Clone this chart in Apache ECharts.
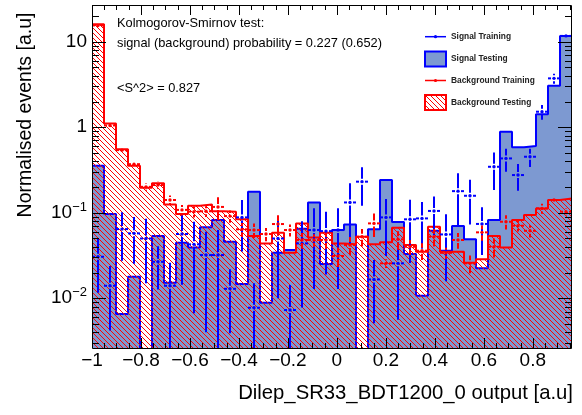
<!DOCTYPE html>
<html>
<head>
<meta charset="utf-8">
<script src="https://cdn.jsdelivr.net/npm/echarts@6/dist/echarts.min.js"></script>
<style>
  html, body { margin: 0; padding: 0; background: #fff; }
  #chart { width: 582px; height: 415px; }
</style>
</head>
<body>
<div id="chart"></div>
<script>
// ---- binning and axis ranges ----
const xMin = -1, xMax = 0.96, nBins = 40;
const yMin = 0.00262, yMax = 26.9;

// ---- testing samples (normalised histograms, one value per bin) ----
const sigTest = [0.355, 0.0966, 0.00653, 0.0178, 0, 0.0533, 0.0152, 0.0446, 0.0393, 0.0675,
                 0.0822, 0.0458, 0.0147, 0.176, 0.00886, 0.034, 0.0366, 0.065, 0.132, 0.0251,
                 0.0628, 0.0731, 0, 0.064, 0.241, 0.0778, 0.0329, 0.0107, 0.0615, 0.036,
                 0.0698, 0.0489, 0.0224, 0.0822, 0.886, 0.582, 0.602, 1.415, 3.06, 11.7];
const bkgTest = [16.0, 1.11, 0.552, 0.355, 0.196, 0.221, 0.125, 0.0966, 0.121, 0.125,
                 0.104, 0.103, 0.0838, 0.0533, 0.0438, 0.0583, 0.034, 0.0751, 0.0515, 0.0583,
                 0.0438, 0.0427, 0.0524, 0.0427, 0.0451, 0.0669, 0.0419, 0.035, 0.0686, 0.035,
                 0.035, 0.026, 0.0285, 0.0533, 0.0393, 0.0822, 0.094, 0.1125, 0.141, 0.147];

// ---- training samples (points with errors) ----
const sigTrain = [0.0306, 0.014, 0.0644, 0.0574, 0.050, 0.0267, 0.014, 0.0564, 0.0427, 0.032,
                  0.032, 0.0129, 0.0883, 0.00775, 0, 0.050, 0.00728, 0.0438, 0.0628, 0.061,
                  0.0628, 0.132, 0.231, 0.0166, 0.0883, 0.0256, 0.0838, 0.0859, 0.105, 0.0558,
                  0.179, 0.158, 0.074, 0.345, 0.432, 0.276, 0.452, 1.52, 3.73, 11.7];
const sigTrainErr = [0.019, 0.0098, 0.037, 0.032, 0.035, 0.014, 0.012, 0.042, 0.036, 0.028,
                     0.031, 0.009, 0.053, 0.0072, 0, 0.04, 0.007, 0.036, 0.05, 0.042,
                     0.05, 0.09, 0.11, 0.0115, 0.057, 0.02, 0.058, 0.048, 0.05, 0.04,
                     0.11, 0.085, 0.042, 0.16, 0.13, 0.095, 0.11, 0.3, 0.5, 0.8];
const bkgTrain = [15.5, 1.05, 0.54, 0.37, 0.201, 0.211, 0.141, 0.108, 0.103, 0.104,
                  0.117, 0.0914, 0.064, 0.0628, 0.0564, 0.0738, 0.0628, 0.048, 0.048, 0.048,
                  0.0312, 0.0419, 0.0524, 0.0751, 0.0256, 0.0489, 0.040, 0.036, 0.0524, 0.034,
                  0.048, 0.0256, 0.059, 0.040, 0.0785, 0.0705, 0.0615, 0.1125, 0.141, 0.103];
const bkgTrainErr = [0.4, 0.06, 0.04, 0.03, 0.02, 0.02, 0.018, 0.015, 0.015, 0.015,
                     0.035, 0.015, 0.012, 0.012, 0.01, 0.02, 0.01, 0.01, 0.008, 0.01,
                     0.008, 0.01, 0.012, 0.023, 0.003, 0.012, 0.008, 0.008, 0.012, 0.005,
                     0.01, 0.006, 0.012, 0.01, 0.015, 0.01, 0.01, 0.015, 0.01, 0.01];

// ---- texts ----
const seriesNames = ['Signal Training', 'Signal Testing', 'Background Training', 'Background Testing'];
const ksLines = ['Kolmogorov-Smirnov test:', 'signal (background) probability = 0.227 (0.652)', '<S^2> = 0.827'];
const xTitle = 'Dilep_SR33_BDT1200_0 output [a.u]';
const yTitle = 'Normalised events [a.u]';

// ---- styling ----
const FONT = '"Liberation Sans", Arial, Helvetica, sans-serif';
const SIG_FILL = '#7d99d1', SIG_LINE = '#0000ff', BKG_LINE = '#ff0000';
const binW = (xMax - xMin) / nBins;
const FLOOR = yMin / 100;   // empty bins drop below the visible range

// crisp one-pixel diagonal hatch tile ("\" direction)
function hatchCanvas(size, color) {
  const c = document.createElement('canvas');
  c.width = size; c.height = size;
  const g = c.getContext('2d');
  g.fillStyle = color;
  for (let i = 0; i < size; i++) g.fillRect(i, i, 1, 1);
  return c;
}
const hatch = { image: hatchCanvas(5, BKG_LINE), repeat: 'repeat' };

// histogram outline as step points at lower bin edges, closed at the upper edge
function stepData(vals) {
  const pts = vals.map((v, k) => [xMin + k * binW, v > 0 ? v : FLOOR]);
  const last = vals[vals.length - 1];
  pts.push([xMax, last > 0 ? last : FLOOR]);
  return pts;
}
function pointData(vals, errs) {
  const out = [];
  vals.forEach((v, k) => { if (v > 0) out.push([k, v, errs[k]]); });
  return out;
}

function errorBarRenderer(color) {
  return function (params, api) {
    const k = api.value(0), v = api.value(1), e = api.value(2);
    const xlo = xMin + k * binW, xhi = xlo + binW, xc = xlo + binW / 2;
    const pc = api.coord([xc, v]);
    const top = api.coord([xc, v + e]);
    const bot = api.coord([xc, v - e > 0 ? v - e : FLOOR]);
    const l = api.coord([xlo, v]), r = api.coord([xhi, v]);
    const gap = 3;
    const st = { stroke: color, lineWidth: 2 };
    const kids = [];
    if (pc[1] - top[1] > gap) kids.push({ type: 'line', shape: { x1: pc[0], y1: top[1], x2: pc[0], y2: pc[1] - gap }, style: st });
    if (bot[1] - pc[1] > gap) kids.push({ type: 'line', shape: { x1: pc[0], y1: pc[1] + gap, x2: pc[0], y2: bot[1] }, style: st });
    kids.push({ type: 'line', shape: { x1: l[0], y1: pc[1], x2: pc[0] - gap, y2: pc[1] }, style: st });
    kids.push({ type: 'line', shape: { x1: pc[0] + gap, y1: pc[1], x2: r[0], y2: pc[1] }, style: st });
    kids.push({ type: 'circle', shape: { cx: pc[0], cy: pc[1], r: 1.7 }, style: { fill: color } });
    return { type: 'group', children: kids };
  };
}

// frame and ticks on all four sides
function frameRenderer(params, api) {
  const cs = params.coordSys;
  const x0 = cs.x, x1 = cs.x + cs.width, y0 = cs.y, y1 = cs.y + cs.height;
  const kids = [];
  const st = { stroke: '#000', lineWidth: 1 };
  for (let i = 0; ; i++) {
    const v = xMin + i * 0.05;
    if (v > xMax + 1e-9) break;
    const major = Math.abs(v / 0.2 - Math.round(v / 0.2)) < 1e-6;
    const len = major ? 10 : 5;
    const px = Math.round(api.coord([v, yMin])[0]) + 0.5;
    kids.push({ type: 'line', shape: { x1: px, y1: y1, x2: px, y2: y1 - len }, style: st });
    kids.push({ type: 'line', shape: { x1: px, y1: y0, x2: px, y2: y0 + len }, style: st });
  }
  for (let d = -3; d <= 1; d++) {
    for (let m = 1; m <= 9; m++) {
      const v = m * Math.pow(10, d);
      if (v < yMin || v > yMax) continue;
      const len = m === 1 ? 14 : 7;
      const py = Math.round(api.coord([xMin, v])[1]) + 0.5;
      kids.push({ type: 'line', shape: { x1: x0, y1: py, x2: x0 + len, y2: py }, style: st });
      kids.push({ type: 'line', shape: { x1: x1, y1: py, x2: x1 - len, y2: py }, style: st });
    }
  }
  kids.push({ type: 'rect', shape: { x: x0 + 0.5, y: y0 + 0.5, width: cs.width - 1, height: cs.height }, style: { stroke: '#000', fill: null, lineWidth: 1 } });
  return { type: 'group', children: kids };
}

const chart = echarts.init(document.getElementById('chart'), null, { renderer: 'canvas' });

const legendX = 425, legendTextX = 451;
const legendRows = [36.7, 59, 80.5, 102.5];

chart.setOption({
  animation: false,
  backgroundColor: '#fff',
  textStyle: { fontFamily: FONT },
  grid: { left: 92, right: 10, top: 5, bottom: 67, show: false },
  xAxis: {
    type: 'value', min: xMin, max: xMax, interval: 0.2,
    axisLine: { show: false }, axisTick: { show: false }, splitLine: { show: false },
    axisLabel: {
      color: '#000', fontSize: 19, fontFamily: FONT, margin: 3,
      formatter: function (v) {
        const r = Math.round(v * 5) / 5;
        if (Math.abs(v - r) > 1e-6) return '';
        if (Math.abs(r) < 1e-9) return '0';
        return String(+r.toFixed(1)).replace('-', '\u2212');
      }
    }
  },
  yAxis: {
    type: 'log', logBase: 10, min: yMin, max: yMax,
    axisLine: { show: false }, axisTick: { show: false }, splitLine: { show: false },
    axisLabel: {
      color: '#000', fontSize: 19, fontFamily: FONT, margin: 5,
      formatter: function (v) {
        const lg = Math.log10(v), e = Math.round(lg);
        if (Math.abs(lg - e) > 1e-6) return '';
        if (e === 0) return '1';
        if (e === 1) return '10';
        return '10{sup|\u2212' + (-e) + '}';
      },
      rich: { sup: { fontSize: 13, fontFamily: FONT, color: '#000', padding: [0, 0, 11, 0] } }
    }
  },
  series: [
    {
      name: seriesNames[1], type: 'line', step: 'end', symbol: 'none', clip: true, z: 1,
      data: stepData(sigTest),
      lineStyle: { color: SIG_LINE, width: 2 },
      areaStyle: { color: SIG_FILL, opacity: 1, origin: 'start' }
    },
    {
      name: seriesNames[3], type: 'line', step: 'end', symbol: 'none', clip: true, z: 2,
      data: stepData(bkgTest),
      lineStyle: { color: BKG_LINE, width: 2 },
      areaStyle: { color: hatch, opacity: 1, origin: 'start' }
    },
    {
      name: seriesNames[0], type: 'custom', clip: true, z: 3,
      data: pointData(sigTrain, sigTrainErr),
      renderItem: errorBarRenderer(SIG_LINE)
    },
    {
      name: seriesNames[2], type: 'custom', clip: true, z: 3,
      data: pointData(bkgTrain, bkgTrainErr),
      renderItem: errorBarRenderer(BKG_LINE)
    },
    {
      name: 'frame', type: 'custom', clip: false, z: 5, silent: true,
      data: [[0]],
      renderItem: frameRenderer
    }
  ],
  graphic: [
    { type: 'text', x: 117, y: 23, style: { text: ksLines[0], font: '12.8px ' + FONT, fill: '#000', verticalAlign: 'middle' } },
    { type: 'text', x: 117, y: 43.5, style: { text: ksLines[1], font: '12.8px ' + FONT, fill: '#000', verticalAlign: 'middle' } },
    { type: 'text', x: 117, y: 88.5, style: { text: ksLines[2], font: '12.8px ' + FONT, fill: '#000', verticalAlign: 'middle' } },
    { type: 'text', x: 573, y: 393, style: { text: xTitle, font: '20.3px ' + FONT, fill: '#000', align: 'right', verticalAlign: 'middle' } },
    { type: 'text', x: 26, y: 115, rotation: Math.PI / 2, style: { text: yTitle, font: '19.5px ' + FONT, fill: '#000', align: 'center', verticalAlign: 'middle' } },
    // legend
    { type: 'line', shape: { x1: legendX, y1: legendRows[0], x2: legendX + 21, y2: legendRows[0] }, style: { stroke: SIG_LINE, lineWidth: 1.5 } },
    { type: 'circle', shape: { cx: legendX + 10.5, cy: legendRows[0], r: 1.6 }, style: { fill: SIG_LINE } },
    { type: 'rect', shape: { x: legendX, y: legendRows[1] - 7.5, width: 21, height: 15 }, style: { fill: SIG_FILL, stroke: SIG_LINE, lineWidth: 2 } },
    { type: 'line', shape: { x1: legendX, y1: legendRows[2], x2: legendX + 21, y2: legendRows[2] }, style: { stroke: BKG_LINE, lineWidth: 1.5 } },
    { type: 'circle', shape: { cx: legendX + 10.5, cy: legendRows[2], r: 1.6 }, style: { fill: BKG_LINE } },
    { type: 'rect', shape: { x: legendX, y: legendRows[3] - 7.5, width: 21, height: 15 }, style: { fill: hatch, stroke: BKG_LINE, lineWidth: 2 } },
    { type: 'text', x: legendTextX, y: legendRows[0], style: { text: seriesNames[0], font: 'bold 8.4px ' + FONT, fill: '#222', verticalAlign: 'middle' } },
    { type: 'text', x: legendTextX, y: legendRows[1], style: { text: seriesNames[1], font: 'bold 8.4px ' + FONT, fill: '#222', verticalAlign: 'middle' } },
    { type: 'text', x: legendTextX, y: legendRows[2], style: { text: seriesNames[2], font: 'bold 8.4px ' + FONT, fill: '#222', verticalAlign: 'middle' } },
    { type: 'text', x: legendTextX, y: legendRows[3], style: { text: seriesNames[3], font: 'bold 8.4px ' + FONT, fill: '#222', verticalAlign: 'middle' } }
  ]
});
</script>
</body>
</html>
